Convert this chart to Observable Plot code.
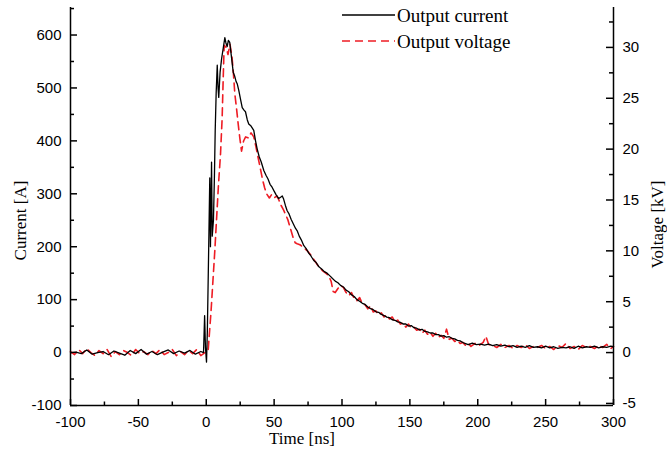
<!DOCTYPE html>
<html>
<head>
<meta charset="utf-8">
<script src="https://cdn.jsdelivr.net/npm/d3@7"></script>
<script src="https://cdn.jsdelivr.net/npm/@observablehq/plot@0.6"></script>
<style>
  html, body { margin: 0; padding: 0; background: #fff; }
  #chart { position: relative; width: 667px; height: 453px; }
</style>
</head>
<body>
<div id="chart"></div>
<script>
// ---- data ----
const tCurrent = [-100,-96,-92,-88,-84,-80,-76,-72,-68,-64,-60,-56,-52,-48,-44,-40,-36,-32,-28,-24,-20,-16,-12,-8,-4,-2,
  -1.2,-0.6,0.2,0.8,1.5,2.0,2.6,3.1,3.9,4.4,5.3,6.0,6.6,7.3,8.1,8.7,9.2,10.2,11.3,12.5,13.7,14.5,15.4,16.3,17.3,18.5,19.9,
  21.0,22.0,22.8,24.0,25.3,26.5,27.8,28.9,30.2,31.3,33.0,35.0,36.3,37.5,39.0,40.5,42.4,44.0,45.5,47.0,48.6,50.0,51.5,53.4,
  55.0,56.0,57.0,58.3,59.6,61.0,62.5,64.0,65.7,67.0,68.5,70.0,71.9,73.5,75.5,77.0,79.2,81,83,85,87,89,91.5,93,95,97,98.9,
  101,103,105,107,109,111,113,115,117,119,121,123,125,127,129,131,133,135,137,139,141,143,145,147,149,151,153,155,157,159,
  161,163,165,167,169,171,173,175,177,179,181,183,185,187,189,191,193,196,199,202,205,208,211,214,217,220,223,226,229,232,
  235,238,241,244,247,250,253,256,259,262,265,268,271,274,277,280,283,286,289,292,295,298,300];
const current = [0,1,-2,5,-3,0,2,-4,3,-1,-5,4,-2,6,-3,2,-4,1,5,-2,3,-1,4,-3,2,0,
  70,10,-18,40,150,230,330,200,360,220,250,330,420,490,543,500,482,530,555,575,595,585,578,590,586,560,529,
  522,512,508,495,478,463,458,455,440,432,428,420,400,385,370,360,344,335,328,318,312,305,298,291,
  294,296,290,278,268,262,252,244,235,230,220,213,202,197,188,183,174,170,162,158,153,150,144,140,135,132,127,
  124,118,115,109,106,100,97,93,91,86,83,81,77,76,72,70,67,66,62,61,58,57,54,54,50,51,47,46,43,44,
  40,39,37,37,34,34,31,32,29,30,27,26,23,22,19,17,15,18,15,16,14,16,13,15,12,14,11,13,10,12,
  10,13,10,11,9,12,9,11,8,10,9,11,8,12,9,11,10,12,9,11,10,12,11];

const tVoltage = [-100,-97,-94,-91,-88,-85,-82,-79,-76,-73,-70,-67,-64,-61,-58,-55,-52,-49,-46,-43,-40,-37,-34,-31,-28,-25,
  -22,-19,-16,-13,-10,-7,-4,-1,1.4,3.5,6.3,9,10.5,11.7,12.5,13.2,14.7,16,17.5,19,20,21,22.3,23.5,24.8,26,27.5,29,31,33,35,
  36.5,38,40,41.5,43,44.5,46.5,48,50,52,53.5,55,57,60,62,64,65.5,67,69,72,74.5,77,79.5,82,84,86,88,90,92,93.5,95,97,99,
  101,103,105,107,109,111,113,115,117,119,121,123,125,127,129,131,133,135,137,139,141,143,145,147,149,151,153,155,157,159,
  161,163,165,167,169,171,173,175,177,179,181,183,185,187,189,191,193,195,198,201,204,206,208,211,214,217,220,223,226,229,
  232,235,238,241,244,247,250,253,256,259,262,265,268,271,274,277,280,283,286,289,292,295,298,300];
const voltage = [0.1,-0.2,0.3,-0.1,0.4,0,-0.3,0.2,-0.1,0.3,-0.4,0.1,-0.2,0.2,0,-0.3,0.3,-0.1,0.1,-0.2,0.2,-0.1,0.3,-0.2,0,0.3,
  -0.3,0.1,-0.2,0.2,-0.1,0.3,-0.3,0,0.2,4,10,16.5,19.5,23,27,30.2,30,29.3,30.3,29,27.5,25.5,24,22.5,21,19.8,20.8,21.2,21.1,21.6,21.2,
  20.3,19.3,18,17,16.2,15.6,15.2,15.5,15.2,15.4,15,14.5,14,13.1,12.2,11.3,10.8,10.7,10.6,10.3,10,9.6,9.1,8.6,8.3,8.0,7.8,7.6,7.0,6.0,5.9,6.3,6.6,
  6.4,5.9,5.6,5.9,5.3,5.1,5.4,4.8,4.7,4.3,4.6,4.0,4.1,3.7,3.9,3.5,3.7,3.3,3.5,3.0,3.2,2.8,2.9,2.5,2.8,2.4,2.5,2.2,2.3,1.9,
  2.2,1.8,2.0,1.6,1.9,1.5,1.7,1.4,2.3,1.3,1.4,1.1,1.2,0.9,1.0,0.7,0.9,0.6,0.9,0.7,1.0,1.6,0.8,0.7,0.5,0.8,0.5,0.7,0.4,0.7,
  0.5,0.8,0.4,0.6,0.5,0.7,0.4,0.6,0.3,0.7,0.5,0.9,0.4,0.6,0.3,0.7,0.5,0.6,0.4,0.7,0.5,0.8,0.4,0.6];

// axis tick labels
const xTicks = [-100,-50,0,50,100,150,200,250,300];
const xMinor = [-75,-25,25,75,125,175,225,275];
const currentTicks = [-100,0,100,200,300,400,500,600];
const currentMinor = [-50,50,150,250,350,450,550,650];
const voltageTicks = [-5,0,5,10,15,20,25,30];
const voltageMinor = [-2.5,2.5,7.5,12.5,17.5,22.5,27.5,32.5];
const seriesNames = ["Output current", "Output voltage"];
const axisTitles = {x: "Time [ns]", left: "Current [A]", right: "Voltage [kV]"};

// 1 kV on the right axis corresponds to this many A on the left axis
const K = 19.22;

const curRows = tCurrent.map((t, i) => ({t, v: current[i]}));
const volRows = tVoltage.map((t, i) => ({t, v: voltage[i] * K}));

const W = 667, H = 453, ML = 70, MR = 54, MT = 7, MB = 48;
const FW = W - ML - MR, FH = H - MT - MB;   // frame size in px

const sans = "Liberation Sans, Arial, sans-serif";
const serif = "Liberation Serif, Times New Roman, serif";
const fmt = d => String(d);
const tickStyle = {stroke: "#000", strokeWidth: 1.5};

const plot = Plot.plot({
  width: W,
  height: H,
  marginLeft: ML,
  marginRight: MR,
  marginTop: MT,
  marginBottom: MB,
  style: {fontFamily: sans, fontSize: "15px", color: "#000", background: "#fff"},
  x: {domain: [-100, 300]},
  y: {domain: [-100, 652]},
  marks: [
    // tick labels
    Plot.axisX(xTicks, {anchor: "bottom", tickSize: 0, tickPadding: 11, tickFormat: fmt, label: null}),
    Plot.axisY(currentTicks, {anchor: "left", tickSize: 0, tickPadding: 9, tickFormat: fmt, label: null}),
    Plot.axisY(voltageTicks.map(v => v * K), {anchor: "right", tickSize: 0, tickPadding: 9,
      tickFormat: d => String(Math.round(d / K)), label: null}),
    // inward ticks (rules inset to a few pixels from the axis line)
    Plot.ruleX(xTicks, {...tickStyle, insetTop: FH - 6}),
    Plot.ruleX(xMinor, {...tickStyle, insetTop: FH - 3.5}),
    Plot.ruleY(currentTicks, {...tickStyle, insetRight: FW - 7}),
    Plot.ruleY(currentMinor, {...tickStyle, insetRight: FW - 4}),
    Plot.ruleY(voltageTicks.map(v => v * K), {...tickStyle, insetLeft: FW - 7}),
    Plot.ruleY(voltageMinor.map(v => v * K), {...tickStyle, insetLeft: FW - 4}),
    // data
    Plot.line(volRows, {x: "t", y: "v", stroke: "#ee1c24", strokeWidth: 1.6, strokeDasharray: "8,5"}),
    Plot.line(curRows, {x: "t", y: "v", stroke: "#000", strokeWidth: 1.3}),
    // axis lines
    Plot.ruleX([-100], {stroke: "#000", strokeWidth: 1.5}),
    Plot.ruleX([300], {stroke: "#000", strokeWidth: 1.5}),
    Plot.ruleY([-100], {stroke: "#000", strokeWidth: 1.5}),
    // axis titles
    Plot.text([axisTitles.x], {frameAnchor: "bottom", textAnchor: "middle", dx: -40, dy: 38, fontFamily: serif, fontSize: 17, fill: "#000"}),
    Plot.text([axisTitles.left], {frameAnchor: "left", textAnchor: "middle", rotate: -90, dx: -50, dy: 14, fontFamily: serif, fontSize: 17, fill: "#000"}),
    Plot.text([axisTitles.right], {frameAnchor: "right", textAnchor: "middle", rotate: -90, dx: 44, dy: 18, fontFamily: serif, fontSize: 17, fill: "#000"})
  ]
});

// legend drawn into the same svg
const svg = d3.select(plot);
const lg = svg.append("g").attr("class", "legend").attr("text-anchor", "start");
const legendItems = [
  {name: seriesNames[0], stroke: "#000", dash: null, width: 1.3},
  {name: seriesNames[1], stroke: "#ee1c24", dash: "8,5", width: 1.6}
];
legendItems.forEach((it, i) => {
  const y = 15 + i * 26;
  lg.append("line").attr("x1", 342).attr("x2", 395).attr("y1", y).attr("y2", y)
    .attr("stroke", it.stroke).attr("stroke-width", it.width).attr("stroke-dasharray", it.dash);
  lg.append("text").attr("x", 397).attr("y", y).attr("dy", "0.35em").attr("text-anchor", "start")
    .attr("font-family", serif).attr("font-size", 19).attr("fill", "#000").text(it.name);
});

document.getElementById("chart").appendChild(plot);
</script>
</body>
</html>
